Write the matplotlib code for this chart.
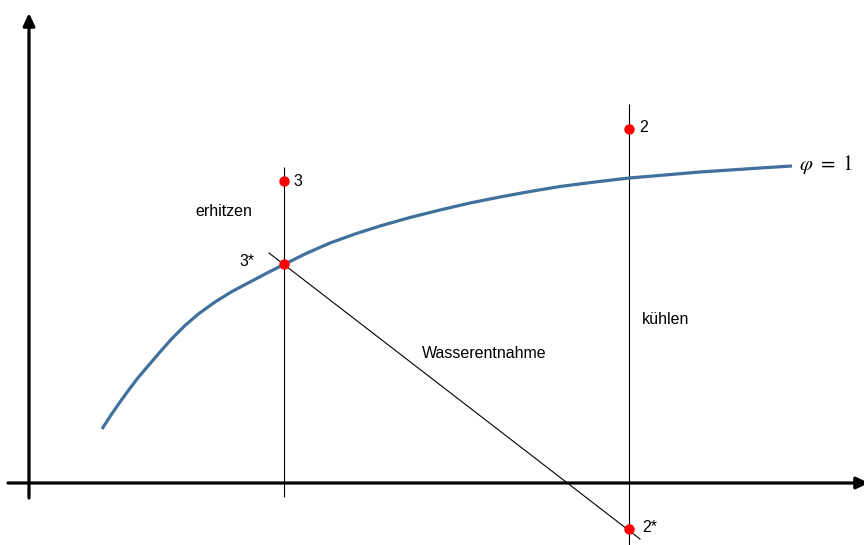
import matplotlib.pyplot as plt

# saturation curve phi = 1 (diagram units, y grows downward)
curve_x = [102, 111, 120, 128, 137, 148, 160, 172, 185, 199, 215, 232, 250, 267, 284,
           305, 330, 355, 380, 410, 440, 470, 500, 530, 560, 595, 629, 665, 700, 730, 760, 792]
curve_y = [429, 415, 402, 391, 379, 366, 352, 338.5, 325.5, 313.5, 302, 291.5, 282, 273, 264.5,
           254, 243, 234, 226, 217.5, 210, 203, 197, 191.5, 186.5, 182, 178, 175, 172, 170, 168, 166]

# state points
point_names = ["3", "3*", "2", "2*"]
point_x = [284, 284, 629, 629]
point_y = [181, 264, 129, 529]

# vertical process lines (x, y_top, y_bottom)
vlines_x = [284, 629]
vlines_top = [167, 104]
vlines_bottom = [497, 545]

# dehumidification line
diag_x = [269, 640]
diag_y = [253, 539]

plt.rcParams["mathtext.fontset"] = "stix"

fig = plt.figure(figsize=(8.64, 5.45), dpi=100)
ax = fig.add_axes([0, 0, 1, 1])
ax.set_xlim(0, 864)
ax.set_ylim(545, 0)
ax.axis("off")

# axes with arrows
arrow = dict(arrowstyle="-|>,head_length=0.75,head_width=0.35",
             lw=2.3, color="black", shrinkA=0, shrinkB=0)
ax.annotate("", xy=(29, 13), xytext=(29, 498), arrowprops=arrow, annotation_clip=False)
ax.annotate("", xy=(869, 483), xytext=(8, 483), arrowprops=arrow, annotation_clip=False)

ax.vlines(vlines_x, vlines_top, vlines_bottom, color="black", lw=0.8)
ax.plot(diag_x, diag_y, color="black", lw=0.8)

ax.plot(curve_x, curve_y, color="#41709c", lw=2.3, solid_capstyle="butt",
        solid_joinstyle="round")

ax.plot(point_x, point_y, "o", color="#ff0000", ms=6.5, zorder=5)

font = dict(family="Liberation Sans", fontsize=11.5, color="black")
ax.text(point_x[0] + 9, point_y[0], point_names[0], ha="left", va="center", **font)
ax.text(point_x[1] - 45, point_y[1] - 2, point_names[1], ha="left", va="center", **font)
ax.text(point_x[2] + 10, point_y[2] - 1, point_names[2], ha="left", va="center", **font)
ax.text(point_x[3] + 13, point_y[3] - 1, point_names[3], ha="left", va="center", **font)

ax.text(224, 211, "erhitzen", ha="center", va="center", **font)
ax.text(666, 320, "kühlen", ha="center", va="center", **font)
ax.text(484, 353, "Wasserentnahme", ha="center", va="center", **font)

ax.text(799, 164, r"$\varphi\ =\ 1$", ha="left", va="center", fontsize=15)

fig.savefig("out.png", dpi=100)
